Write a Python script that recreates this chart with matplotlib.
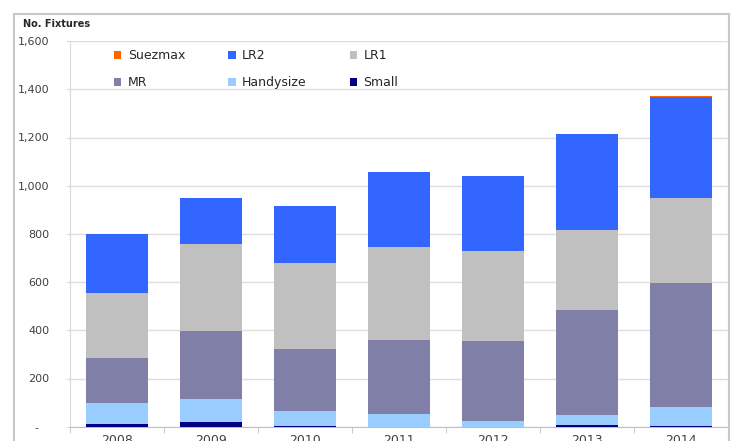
import numpy as np
import matplotlib
matplotlib.use("Agg")
import matplotlib.pyplot as plt
from matplotlib.patches import Rectangle
from matplotlib.ticker import FixedLocator, FuncFormatter

# Data (number of fixtures per vessel class)
years = ["2008", "2009", "2010", "2011", "2012", "2013", "2014"]
small = [10, 18, 2, 0, 0, 8, 2]
handysize = [90, 96, 64, 51, 25, 41, 81]
mr = [184, 283, 255, 309, 332, 436, 515]
lr1 = [271, 361, 360, 387, 372, 331, 349]
lr2 = [245, 190, 236, 308, 312, 400, 422]
suezmax = [0, 0, 0, 0, 0, 0, 5]

series = [
    ("Small", small, "#000080"),
    ("Handysize", handysize, "#99CCFF"),
    ("MR", mr, "#7F7FA8"),
    ("LR1", lr1, "#C0C0C0"),
    ("LR2", lr2, "#3366FF"),
    ("Suezmax", suezmax, "#FF6600"),
]

W, H = 734, 441
fig = plt.figure(figsize=(W / 100, H / 100), dpi=100)
ax = fig.add_axes([70 / W, 1 - 426.7 / H, (728 - 70) / W, (426.7 - 41.1) / H])

x = np.arange(len(years))
bottom = np.zeros(len(years))
bars = {}
for name, vals, col in series:
    bars[name] = ax.bar(x, vals, width=0.66, bottom=bottom, color=col,
                        edgecolor="none", zorder=3, label=name)
    bottom += np.array(vals)

ax.set_xlim(-0.5, len(years) - 0.5)
ax.set_ylim(0, 1600)
ax.set_yticks(np.arange(0, 1601, 200))
ax.yaxis.set_major_formatter(FuncFormatter(lambda v, p: "-   " if v == 0 else f"{int(v):,}"))
ax.grid(axis="y", color="#DDDDDD", lw=1, zorder=0)

ax.set_xticks(x)
ax.set_xticklabels(years)
ax.xaxis.set_minor_locator(FixedLocator(np.arange(-0.5, len(years), 1.0)))
ax.tick_params(axis="x", which="major", length=0, pad=5, labelsize=9, colors="#404040")
ax.tick_params(axis="x", which="minor", length=4, color="#BFBFBF")
ax.tick_params(axis="y", length=3, color="#DDDDDD", pad=12, labelsize=8, labelcolor="#404040")

for s in ["top", "right"]:
    ax.spines[s].set_visible(False)
ax.spines["left"].set_color("#D9D9D9")
ax.spines["bottom"].set_color("#BFBFBF")

ax.text(23 / W, 1 - 24 / H, "No. Fixtures", transform=fig.transFigure,
        fontsize=7, fontweight="bold", color="#262626", va="center", ha="left")

# legend: row 1 Suezmax, LR2, LR1 ; row 2 MR, Handysize, Small
order = ["Suezmax", "MR", "LR2", "Handysize", "LR1", "Small"]
fig.legend([bars[n] for n in order], order, ncol=3, frameon=False,
           loc="upper left", bbox_to_anchor=(114 / W, 1 - 49 / H),
           borderpad=0, borderaxespad=0, fontsize=9, handlelength=0.6,
           handleheight=0.6, handletextpad=0.5, columnspacing=3.45,
           labelspacing=1.15, labelcolor="#262626")

# chart area border
fig.patches.append(Rectangle((14 / W, -0.1), (729 - 14) / W, 1 - 14 / H + 0.1,
                             transform=fig.transFigure, fill=False,
                             edgecolor="#C8C8C8", lw=1.5))

fig.savefig("out.png", dpi=100)
